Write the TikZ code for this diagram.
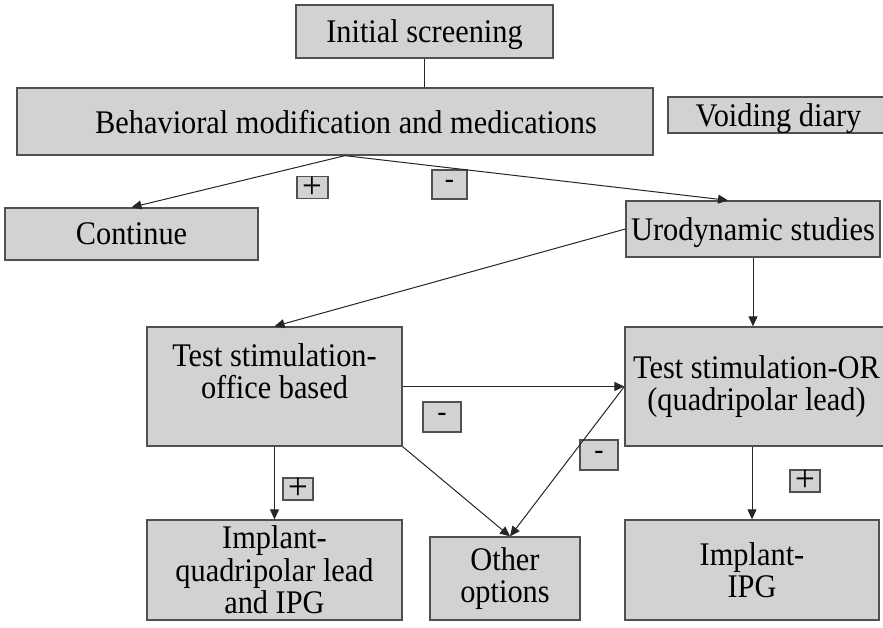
\documentclass[tikz,border=0pt]{standalone}
\usepackage{fontspec}
\setmainfont[FakeStretch=0.92]{Liberation Serif}
\usetikzlibrary{arrows.meta,calc}
\definecolor{boxfill}{RGB}{210,210,210}
\definecolor{boxline}{RGB}{80,80,80}
\tikzset{
  box/.style={draw=boxline, fill=boxfill, line width=1.3pt, inner sep=0pt, align=center,
    font=\fontsize{33}{32.5}\selectfont},
  onebox/.style={box, text depth=0pt},
  sign/.style={draw=boxline, fill=boxfill, line width=1.3pt, inner sep=0pt,
    font=\fontsize{38}{38}\selectfont},
  minus/.style={sign, font=\fontsize{30}{30}\selectfont},
  conn/.style={draw=black!85, line width=1pt},
  arr/.style={conn, -{Triangle[length=10pt,width=9pt]}}
}
\begin{document}
\begin{tikzpicture}[x=1pt,y=-1pt]
\useasboundingbox[fill=white] (0,0) rectangle (883,628);
% boxes
\node[onebox, minimum width=257, minimum height=53] (init) at (424.5,31.5) {Initial screening};
\node[onebox, minimum width=636, minimum height=67] (beh) at (335,121.5) {\hspace*{22pt}Behavioral modification and medications};
\node[onebox, minimum width=227, minimum height=36] (void) at (781.5,115) {Voiding diary\hspace*{6pt}};
\node[onebox, minimum width=253, minimum height=52] (cont) at (131.5,234) {Continue};
\node[onebox, minimum width=254, minimum height=56] (uro) at (753,229) {Urodynamic studies};
\node[box, minimum width=255, minimum height=119] (office) at (274.5,386.5) {Test stimulation-\\office based\\[-11pt]\strut};
\node[box, minimum width=263, minimum height=119] (or) at (756.5,386.5) {Test stimulation-OR\\(quadripolar lead)};
\node[box, minimum width=255, minimum height=100] (impq) at (274.5,570) {Implant-\\quadripolar lead\\and IPG};
\node[box, minimum width=150, minimum height=83] (other) at (505,578.5) {Other\\options};
\node[box, minimum width=254, minimum height=100] (impipg) at (752,570) {Implant-\\IPG};
% sign boxes
\node[sign, minimum width=31, minimum height=21] (p1) at (312.5,187.5) {+};
\node[minus, minimum width=35, minimum height=29] (m1) at (449.5,184.5) {-};
\node[minus, minimum width=38, minimum height=30] (m2) at (442,417) {-};
\node[minus, minimum width=38, minimum height=30] (m3) at (599,455) {-};
\node[sign, minimum width=30, minimum height=22] (p2) at (298,489) {+};
\node[sign, minimum width=30, minimum height=22] (p3) at (805,481) {+};
% connectors
\coordinate (bs) at ($(beh.south)+(10,0)$);
\coordinate (ut) at ($(uro.north)+(-25,0)$);
\coordinate (ot) at ($(other.north)+(5,0)$);
\draw[conn] (init.south) -- (init.south |- beh.north);
\draw[arr] (bs) -- (cont.north);
\draw[arr] (bs) -- (ut);
\draw[arr] (uro.west) -- (office.north);
\draw[arr] (uro.south) -- (uro.south |- or.north);
\draw[arr] (office.east) -- (or.west);
\draw[arr] (office.south east) -- (ot);
\draw[arr] (or.west) -- (ot);
\draw[arr] (office.south) -- (impq.north);
\draw[arr] (impipg.north |- or.south) -- (impipg.north);
\end{tikzpicture}
\end{document}
